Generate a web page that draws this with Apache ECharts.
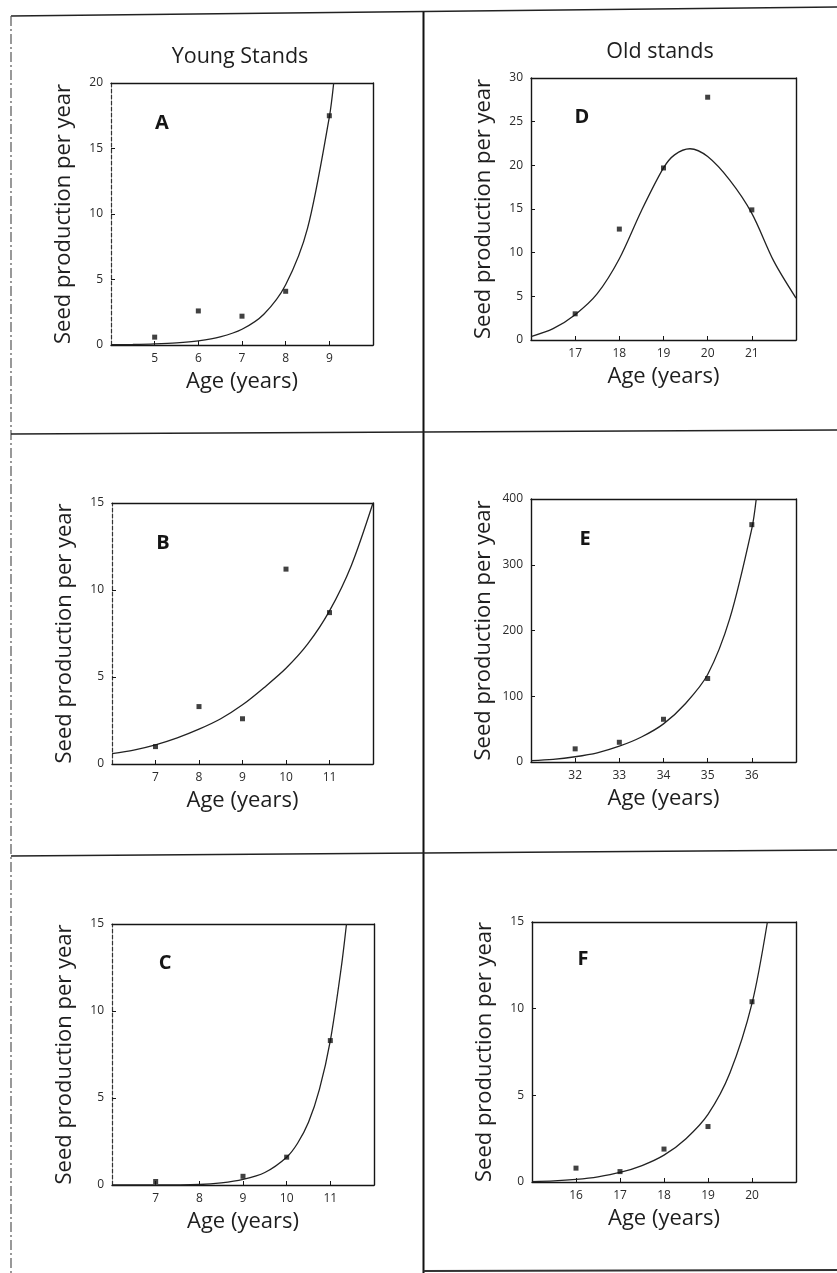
<!DOCTYPE html>
<html>
<head>
<meta charset="utf-8">
<script src="https://cdn.jsdelivr.net/npm/echarts@6/dist/echarts.min.js"></script>
<style>
  html, body { margin: 0; padding: 0; background: #fff; }
  #chart { width: 837px; height: 1273px; }
</style>
</head>
<body>
<div id="chart"></div>
<script>
// ---- Young stands ----
// Panel A
const ageA = [5, 6, 7, 8, 9];
const seedA = [0.6, 2.6, 2.2, 4.1, 17.5];
const fitAgeA = [4, 4.5, 5, 5.5, 6, 6.5, 7, 7.5, 8, 8.5, 9, 9.1];
const fitSeedA = [0.02, 0.04, 0.08, 0.16, 0.32, 0.62, 1.2, 2.35, 4.6, 8.9, 17.4, 20];
const xTicksA = [5, 6, 7, 8, 9];
const yTicksA = [0, 5, 10, 15, 20];

// Panel B
const ageB = [7, 8, 9, 10, 11];
const seedB = [1.0, 3.3, 2.6, 11.2, 8.7];
const fitAgeB = [6, 6.5, 7, 7.5, 8, 8.5, 9, 9.5, 10, 10.5, 11, 11.5, 12];
const fitSeedB = [0.6, 0.8, 1.1, 1.5, 2.0, 2.6, 3.4, 4.4, 5.5, 6.9, 8.8, 11.4, 15];
const xTicksB = [7, 8, 9, 10, 11];
const yTicksB = [0, 5, 10, 15];

// Panel C
const ageC = [7, 9, 10, 11];
const seedC = [0.2, 0.5, 1.6, 8.3];
const fitAgeC = [6, 7, 8, 8.5, 9, 9.5, 10, 10.25, 10.5, 10.75, 11, 11.25, 11.37];
const fitSeedC = [0, 0, 0.03, 0.12, 0.32, 0.72, 1.6, 2.4, 3.6, 5.5, 8.3, 12.5, 15];
const xTicksC = [7, 8, 9, 10, 11];
const yTicksC = [0, 5, 10, 15];

// ---- Old stands ----
// Panel D
const ageD = [17, 18, 19, 20, 21];
const seedD = [3.0, 12.7, 19.7, 27.8, 14.9];
const fitAgeD = [16, 16.5, 17, 17.5, 18, 18.5, 19, 19.25, 19.6, 20, 20.5, 21, 21.5, 22];
const fitSeedD = [0.4, 1.3, 2.9, 5.3, 9.3, 14.8, 19.7, 21.2, 21.9, 21.0, 18.3, 14.5, 9.0, 4.8];
const xTicksD = [17, 18, 19, 20, 21];
const yTicksD = [0, 5, 10, 15, 20, 25, 30];

// Panel E
const ageE = [32, 33, 34, 35, 36];
const seedE = [20, 30, 65, 127, 361];
const fitAgeE = [31, 31.5, 32, 32.5, 33, 33.5, 34, 34.5, 35, 35.5, 36, 36.1];
const fitSeedE = [2, 4, 8, 14, 24, 38, 58, 89, 133, 218, 355, 400];
const xTicksE = [32, 33, 34, 35, 36];
const yTicksE = [0, 100, 200, 300, 400];

// Panel F
const ageF = [16, 17, 18, 19, 20];
const seedF = [0.8, 0.6, 1.9, 3.2, 10.4];
const fitAgeF = [15, 15.5, 16, 16.5, 17, 17.5, 18, 18.5, 19, 19.5, 20, 20.35];
const fitSeedF = [0.02, 0.06, 0.15, 0.3, 0.55, 0.95, 1.55, 2.5, 3.9, 6.3, 10.3, 15];
const xTicksF = [16, 17, 18, 19, 20];
const yTicksF = [0, 5, 10, 15];

const columnTitles = ['Young Stands', 'Old stands'];
const xName = 'Age (years)';
const yName = 'Seed production per year';

const panels = [
  { letter: 'A', age: ageA, seed: seedA, fitAge: fitAgeA, fitSeed: fitSeedA, xTicks: xTicksA, yTicks: yTicksA, xMin: 4, xMax: 10 },
  { letter: 'D', age: ageD, seed: seedD, fitAge: fitAgeD, fitSeed: fitSeedD, xTicks: xTicksD, yTicks: yTicksD, xMin: 16, xMax: 22 },
  { letter: 'B', age: ageB, seed: seedB, fitAge: fitAgeB, fitSeed: fitSeedB, xTicks: xTicksB, yTicks: yTicksB, xMin: 6, xMax: 12 },
  { letter: 'E', age: ageE, seed: seedE, fitAge: fitAgeE, fitSeed: fitSeedE, xTicks: xTicksE, yTicks: yTicksE, xMin: 31, xMax: 37 },
  { letter: 'C', age: ageC, seed: seedC, fitAge: fitAgeC, fitSeed: fitSeedC, xTicks: xTicksC, yTicks: yTicksC, xMin: 6, xMax: 12 },
  { letter: 'F', age: ageF, seed: seedF, fitAge: fitAgeF, fitSeed: fitSeedF, xTicks: xTicksF, yTicks: yTicksF, xMin: 15, xMax: 21 }
];

// Plot boxes and panel-letter anchors (pixels)
const boxes = {
  A: { left: 111, top: 83,  width: 262, height: 262, lx: 162, ly: 123, faintLeft: true },
  D: { left: 531, top: 78,  width: 265, height: 262, lx: 582, ly: 117, faintLeft: false },
  B: { left: 112, top: 503, width: 261, height: 261, lx: 163, ly: 543, faintLeft: true },
  E: { left: 531, top: 499, width: 265, height: 263, lx: 585, ly: 539, faintLeft: false },
  C: { left: 112, top: 924, width: 262, height: 261, lx: 165, ly: 963, faintLeft: true },
  F: { left: 532, top: 922, width: 264, height: 260, lx: 583, ly: 959, faintLeft: false }
};

const FONT = '"Open Sans", "Liberation Sans", sans-serif';
const INK = '#151515';

const zip = (a, b) => a.map((v, i) => [v, b[i]]);

const grids = [], xAxes = [], yAxes = [], series = [];
const graphics = [];

panels.forEach((p, i) => {
  const b = boxes[p.letter];
  grids.push({ left: b.left, top: b.top, width: b.width, height: b.height, show: false });

  // bottom axis with ticks and labels
  xAxes.push({
    type: 'value', gridIndex: i, position: 'bottom',
    min: p.xMin, max: p.xMax,
    axisLine: { show: true, onZero: false, lineStyle: { color: INK, width: 1.4 } },
    axisTick: { show: true, inside: true, length: 4, customValues: p.xTicks, lineStyle: { color: INK, width: 1 } },
    axisLabel: { show: true, customValues: p.xTicks, fontSize: 12, margin: 8, color: '#2a2a2a', fontFamily: FONT },
    splitLine: { show: false },
    name: xName, nameLocation: 'middle', nameGap: 26,
    nameTextStyle: { fontSize: 22, color: '#1e1e1e', fontFamily: FONT }
  });
  // top frame edge
  xAxes.push({
    type: 'value', gridIndex: i, position: 'top',
    min: p.xMin, max: p.xMax,
    axisLine: { show: true, onZero: false, lineStyle: { color: INK, width: 1.4 } },
    axisTick: { show: false }, axisLabel: { show: false }, splitLine: { show: false }
  });
  // left axis with ticks and labels
  yAxes.push({
    type: 'value', gridIndex: i, position: 'left',
    min: p.yTicks[0], max: p.yTicks[p.yTicks.length - 1],
    axisLine: { show: true, onZero: false, lineStyle: b.faintLeft ? { color: '#333', width: 1.2, type: [4, 2] } : { color: INK, width: 1.4 } },
    axisTick: { show: true, inside: true, length: 4, customValues: p.yTicks, lineStyle: { color: INK, width: 1 } },
    axisLabel: { show: true, customValues: p.yTicks, fontSize: 12, margin: 8, color: '#2a2a2a', fontFamily: FONT },
    splitLine: { show: false },
    name: yName, nameLocation: 'middle', nameGap: 36, nameRotate: 90,
    nameTextStyle: { fontSize: 22, color: '#1e1e1e', fontFamily: FONT }
  });
  // right frame edge
  yAxes.push({
    type: 'value', gridIndex: i, position: 'right',
    min: p.yTicks[0], max: p.yTicks[p.yTicks.length - 1],
    axisLine: { show: true, onZero: false, lineStyle: { color: INK, width: 1.4 } },
    axisTick: { show: false }, axisLabel: { show: false }, splitLine: { show: false }
  });

  // fitted curve
  series.push({
    type: 'line', xAxisIndex: 2 * i, yAxisIndex: 2 * i,
    data: zip(p.fitAge, p.fitSeed),
    smooth: 0.3, showSymbol: false, clip: true,
    lineStyle: { color: '#222', width: 1.3 },
    silent: true, z: 2
  });
  // observed values
  series.push({
    type: 'scatter', xAxisIndex: 2 * i, yAxisIndex: 2 * i,
    data: zip(p.age, p.seed),
    symbol: 'rect', symbolSize: 5,
    itemStyle: { color: '#111' },
    silent: true, z: 3
  });

  // panel letter
  graphics.push({
    type: 'text', x: b.lx, y: b.ly, z: 10,
    style: { text: p.letter, font: 'bold 20px ' + FONT, fill: '#151515', align: 'center', verticalAlign: 'middle' }
  });
});

// column headings
graphics.push(
  { type: 'text', x: 240, y: 57, z: 10, style: { text: columnTitles[0], font: '21.5px ' + FONT, fill: '#1e1e1e', align: 'center', verticalAlign: 'middle' } },
  { type: 'text', x: 660, y: 52, z: 10, style: { text: columnTitles[1], font: '21.5px ' + FONT, fill: '#1e1e1e', align: 'center', verticalAlign: 'middle' } }
);

// page frame: outer rules and cell dividers
const rule = (x1, y1, x2, y2, w, color, dash) => ({
  type: 'line', z: 1, silent: true,
  shape: { x1, y1, x2, y2 },
  style: { stroke: color, lineWidth: w, lineDash: dash || null }
});
graphics.push(
  rule(11, 16, 837, 7, 1.6, '#222'),
  rule(11, 16, 11, 1273, 1.2, '#555', [10, 3, 2, 3]),
  rule(423.5, 12, 423.5, 1273, 2, '#111'),
  rule(11, 434, 837, 430, 1.6, '#222'),
  rule(11, 856, 837, 850, 1.6, '#222'),
  rule(423.5, 1271, 837, 1270, 2, '#333')
);

const chart = echarts.init(document.getElementById('chart'), null, { renderer: 'canvas' });
chart.setOption({
  backgroundColor: '#ffffff',
  animation: false,
  grid: grids,
  xAxis: xAxes,
  yAxis: yAxes,
  series: series,
  graphic: graphics
});
</script>
</body>
</html>
